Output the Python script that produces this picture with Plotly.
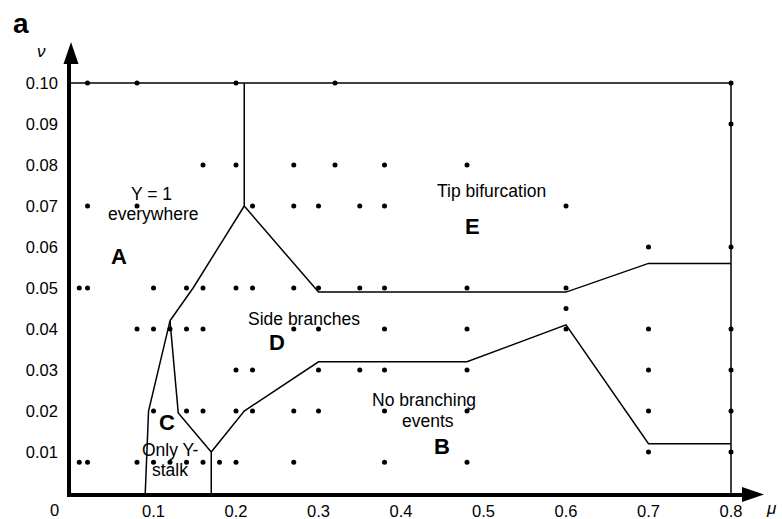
import plotly.graph_objects as go

# ---------------- data ----------------
# observation points, grouped by nu value (row) -> list of mu values
row_0100 = [0.02, 0.08, 0.20, 0.32, 0.80]
row_0090 = [0.80]
row_0080 = [0.16, 0.20, 0.27, 0.32, 0.38, 0.48]
row_0070 = [0.02, 0.08, 0.22, 0.27, 0.30, 0.35, 0.38, 0.60]
row_0060 = [0.70, 0.80]
row_0050 = [0.01, 0.02, 0.10, 0.14, 0.16, 0.20, 0.22, 0.27, 0.30, 0.35, 0.38, 0.48, 0.60]
row_0045 = [0.60]
row_0040 = [0.08, 0.10, 0.12, 0.14, 0.16, 0.27, 0.30, 0.38, 0.48, 0.60, 0.70, 0.80]
row_0030 = [0.20, 0.22, 0.30, 0.35, 0.38, 0.48, 0.70, 0.80]
row_0020 = [0.10, 0.14, 0.16, 0.20, 0.22, 0.27, 0.30, 0.38, 0.48, 0.70, 0.80]
row_0010 = [0.70, 0.80]
row_0075 = [0.01, 0.02, 0.08, 0.10, 0.12, 0.14, 0.16, 0.18, 0.20, 0.27, 0.38, 0.48]
row_nu = [0.10, 0.09, 0.08, 0.07, 0.06, 0.05, 0.045, 0.04, 0.03, 0.02, 0.01, 0.0075]
row_mu = [row_0100, row_0090, row_0080, row_0070, row_0060, row_0050,
          row_0045, row_0040, row_0030, row_0020, row_0010, row_0075]

# region boundaries (mu, nu)
top_mu, top_nu = [0.0, 0.80], [0.10, 0.10]
right_mu, right_nu = [0.80, 0.80], [0.0, 0.10]
split_mu, split_nu = [0.21, 0.21], [0.10, 0.07]
ad_mu, ad_nu = [0.21, 0.148, 0.12], [0.07, 0.05, 0.042]
cleft_mu, cleft_nu = [0.12, 0.094, 0.09], [0.042, 0.02, 0.0]
cright_mu, cright_nu = [0.12, 0.13, 0.17, 0.17], [0.042, 0.0195, 0.01, 0.0]
db_mu = [0.17, 0.21, 0.30, 0.48, 0.60, 0.70, 0.80]
db_nu = [0.01, 0.02, 0.032, 0.032, 0.041, 0.012, 0.012]
de_mu = [0.21, 0.30, 0.60, 0.70, 0.80]
de_nu = [0.07, 0.049, 0.049, 0.056, 0.056]

x_ticks = [0.1, 0.2, 0.3, 0.4, 0.5, 0.6, 0.7, 0.8]
y_ticks = [0.01, 0.02, 0.03, 0.04, 0.05, 0.06, 0.07, 0.08, 0.09, 0.10]

# region labels: (text, mu, nu, size, bold)
labels = [
    ("Y = 1", 0.098, 0.0730, 17.5, False),
    ("everywhere", 0.0995, 0.0680, 17.5, False),
    ("A", 0.058, 0.0578, 22, True),
    ("Tip bifurcation", 0.510, 0.0737, 17.5, False),
    ("E", 0.487, 0.0649, 22, True),
    ("Side branches", 0.2824, 0.0424, 17.5, False),
    ("D", 0.2497, 0.0367, 22, True),
    ("No branching", 0.4279, 0.0228, 17.5, False),
    ("events", 0.4327, 0.0175, 17.5, False),
    ("B", 0.4497, 0.0114, 22, True),
    ("C", 0.1164, 0.0172, 22, True),
    ("Only Y-", 0.120, 0.0104, 17.5, False),
    ("stalk", 0.120, 0.0056, 17.5, False),
]

# ---------------- figure ----------------
W, H = 782, 519
ML, MR, MT, MB = 71, 39, 63, 26
PW, PH = W - ML - MR, H - MT - MB
SX = 825.0   # px per unit mu
SY = 4100.0  # px per unit nu
FONT = "Liberation Sans, Arial, sans-serif"


def px(xp):
    return (xp - ML) / PW


def py(yp):
    return (H - MB - yp) / PH


fig = go.Figure()

for mus, nus in [(top_mu, top_nu), (right_mu, right_nu), (split_mu, split_nu),
                 (ad_mu, ad_nu), (cleft_mu, cleft_nu), (cright_mu, cright_nu),
                 (db_mu, db_nu), (de_mu, de_nu)]:
    fig.add_trace(go.Scatter(x=mus, y=nus, mode="lines",
                             line=dict(color="black", width=1.5),
                             hoverinfo="skip", showlegend=False, cliponaxis=False))

dx, dy = [], []
for nu, mus in zip(row_nu, row_mu):
    for m in mus:
        dx.append(m)
        dy.append(nu)
fig.add_trace(go.Scatter(x=dx, y=dy, mode="markers",
                         marker=dict(color="black", size=5, line=dict(width=0)),
                         showlegend=False, cliponaxis=False))

for text, m, n, size, bold in labels:
    fig.add_annotation(x=m, y=n, xref="x", yref="y", showarrow=False,
                       xanchor="center", yanchor="middle",
                       text=f"<b>{text}</b>" if bold else text,
                       font=dict(family=FONT, size=size, color="black"))

# axis arrow heads
fig.add_shape(type="path", xref="paper", yref="paper",
              path=f"M {px(71)} {py(42)} L {px(63.5)} {py(64)} L {px(78.5)} {py(64)} Z",
              fillcolor="black", line=dict(width=0))
fig.add_shape(type="path", xref="paper", yref="paper",
              path=f"M {px(764)} {py(494.5)} L {px(742)} {py(487)} L {px(742)} {py(502)} Z",
              fillcolor="black", line=dict(width=0))

# extra text: panel letter, axis names, origin
extra = [("<b>a</b>", 21, 23, 28), ("<i>ν</i>", 41, 51, 17),
         ("<i>μ</i>", 771, 508, 17), ("0", 54, 510, 16.5)]
for text, xp, yp, size in extra:
    fig.add_annotation(x=px(xp), y=py(yp), xref="paper", yref="paper",
                       showarrow=False, xanchor="center", yanchor="middle",
                       text=text, font=dict(family=FONT, size=size, color="black"))

fig.update_layout(
    template="none",
    width=W, height=H,
    margin=dict(l=ML, r=MR, t=MT, b=MB, pad=0, autoexpand=False),
    paper_bgcolor="white", plot_bgcolor="white",
    font=dict(family=FONT, size=16.5, color="black"),
    showlegend=False,
    xaxis=dict(range=[0, PW / SX], showgrid=False, zeroline=False,
               showline=True, linewidth=3.5, linecolor="black",
               tickvals=x_ticks, ticktext=[f"{v:.1f}" for v in x_ticks],
               ticks="", automargin=False, fixedrange=True),
    yaxis=dict(range=[0, PH / SY], showgrid=False, zeroline=False,
               showline=True, linewidth=3.5, linecolor="black",
               tickvals=y_ticks, ticktext=[f"{v:.2f}" for v in y_ticks],
               ticks="", automargin=False, fixedrange=True,
               ticklabelstandoff=6),
)

fig.write_html("out.html")
